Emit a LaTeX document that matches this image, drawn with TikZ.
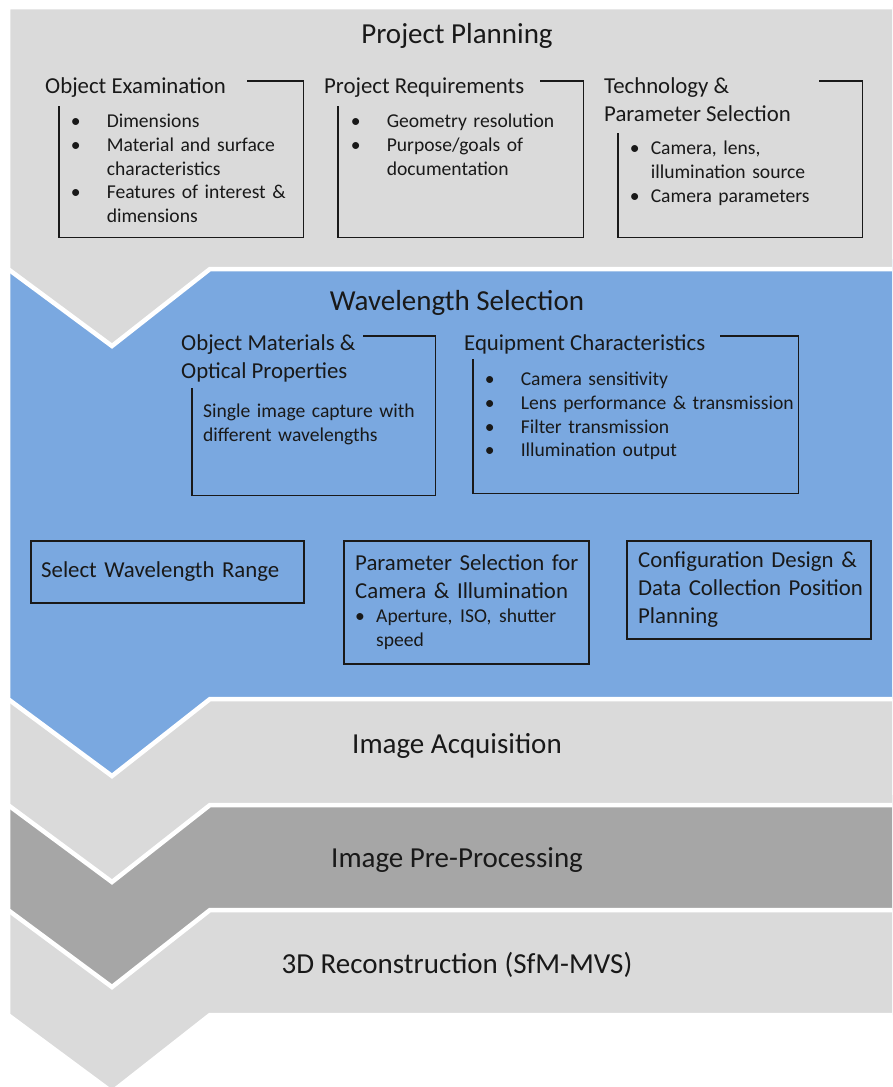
\documentclass[tikz,border=0pt]{standalone}
\usepackage{fontspec}
\setmainfont{Carlito}
\usetikzlibrary{positioning}

\definecolor{bandgray}{RGB}{218,218,218}
\definecolor{bandblue}{RGB}{122,168,224}
\definecolor{banddark}{RGB}{166,166,166}

% bullet line with hanging indent (break lines with \newline)
\newcommand\bul[2][36pt]{\hangindent=#1\hangafter=1\noindent\makebox[#1][l]{\textbullet}#2\par}

\begin{document}
\begin{tikzpicture}[x=1pt,y=-1pt,
  band/.style={draw=white,line width=4.5pt,line join=miter},
  bandtitle/.style={anchor=base,text=black!90,font=\fontsize{29}{35}\selectfont},
  boxtitle/.style={anchor=north west,inner sep=0pt,align=left,text=black!90,font=\fontsize{22.8}{28}\selectfont},
  itemtext/.style={anchor=north west,inner sep=0pt,text width=#1,align=left,text=black!90,font=\fontsize{19.6}{23.7}\selectfont},
  area/.style={anchor=north west,inner sep=0pt},
  bracket/.style={draw=black!90,line width=1.5pt},
  stepbox/.style={bracket,anchor=north west,inner sep=0pt},
  steptext/.style={anchor=west,inner sep=0pt,text width=240pt,align=left,text=black!90,font=\fontsize{22.8}{28}\selectfont}]
\useasboundingbox (0,0) rectangle (892,1087);
\clip (0,0) rectangle (892,1087);

% chevron bands, lowest first so each one sits on the next
\foreach \yt/\yb/\col in {900/1015/bandgray,795/910/banddark,689/805/bandgray,259/699/bandblue,7/269/bandgray}
  \draw[band,fill=\col] (8,\yt) -- (900,\yt) -- (900,\yb) -- (210,\yb) -- (112,\yb+77) -- (8,\yb) -- cycle;

\node[bandtitle] (plan) at (457,43) {Project Planning};
\node[bandtitle] (wave) at (457,310) {Wavelength Selection};
\node[bandtitle] (acq) at (457,753) {Image Acquisition};
\node[bandtitle] (pre) at (457,867) {Image Pre-Processing};
\node[bandtitle] (recon) at (457,973) {3D Reconstruction (SfM-MVS)};

% planning
\node[boxtitle] (oe-title) at (45,77.6) {Object Examination};
\node[area,minimum width=244pt,minimum height=156pt] (oe-box) at (59,81) {};
\node[itemtext=240pt] (oe-list) at (70.6,114) {\bul{Dimensions}\bul{Material and surface\newline characteristics}\bul{Features of interest \&\newline dimensions}};
\draw[bracket] ([xshift=-56pt]oe-box.north east) -- (oe-box.north east) -- (oe-box.south east) -- (oe-box.south west) -- ([yshift=-25pt]oe-box.north west);

\node[boxtitle] (pr-title) at (324,77.6) {Project Requirements};
\node[area,minimum width=245pt,minimum height=156pt] (pr-box) at (338,81) {};
\node[itemtext=230pt] (pr-list) at (350.6,114) {\bul{Geometry resolution}\bul{Purpose/goals of\newline documentation}};
\draw[bracket] ([xshift=-43pt]pr-box.north east) -- (pr-box.north east) -- (pr-box.south east) -- (pr-box.south west) -- ([yshift=-25pt]pr-box.north west);

\node[boxtitle] (tech-title) at (604,77.6) {Technology \&\\Parameter Selection};
\node[area,minimum width=244pt,minimum height=156pt] (tech-box) at (618,81) {};
\node[itemtext=230pt] (tech-list) at (629.6,141) {\bul[21pt]{Camera, lens,\newline illumination source}\bul[21pt]{Camera parameters}};
\draw[bracket] ([xshift=-43pt]tech-box.north east) -- (tech-box.north east) -- (tech-box.south east) -- (tech-box.south west) -- ([yshift=-52pt]tech-box.north west);

% wavelength selection
\node[boxtitle] (om-title) at (181,334.6) {Object Materials \&\\Optical Properties};
\node[area,minimum width=243pt,minimum height=159pt] (om-box) at (192,336) {};
\node[itemtext=225pt] (om-text) at (203,404) {Single image capture with\\different wavelengths};
\draw[bracket] ([xshift=-72pt]om-box.north east) -- (om-box.north east) -- (om-box.south east) -- (om-box.south west) -- ([yshift=-52pt]om-box.north west);

\node[boxtitle] (eq-title) at (464,334.6) {Equipment Characteristics};
\node[area,minimum width=325pt,minimum height=157pt] (eq-box) at (473,336) {};
\node[itemtext=310pt] (eq-list) at (484.6,372) {\bul{Camera sensitivity}\bul{Lens performance \& transmission}\bul{Filter transmission}\bul{Illumination output}};
\draw[bracket] ([xshift=-78pt]eq-box.north east) -- (eq-box.north east) -- (eq-box.south east) -- (eq-box.south west) -- ([yshift=-23pt]eq-box.north west);

\node[stepbox,minimum width=273pt,minimum height=62pt] (range) at (30,540) {};
\node[steptext] (range-text) at ([xshift=11pt]range.west) {Select Wavelength Range};
\node[stepbox,minimum width=245pt,minimum height=123pt] (param) at (343,540) {};
\node[steptext] (param-text) at ([xshift=12pt]param.west) {Parameter Selection for\\Camera \& Illumination\par{\fontsize{19.6}{23.7}\selectfont\bul[21pt]{Aperture, ISO, shutter\newline speed}}};
\node[stepbox,minimum width=244pt,minimum height=98pt] (config) at (626,540) {};
\node[steptext] (config-text) at ([xshift=12pt]config.west) {Configuration Design \&\\Data Collection Position\\Planning};
\end{tikzpicture}
\end{document}
